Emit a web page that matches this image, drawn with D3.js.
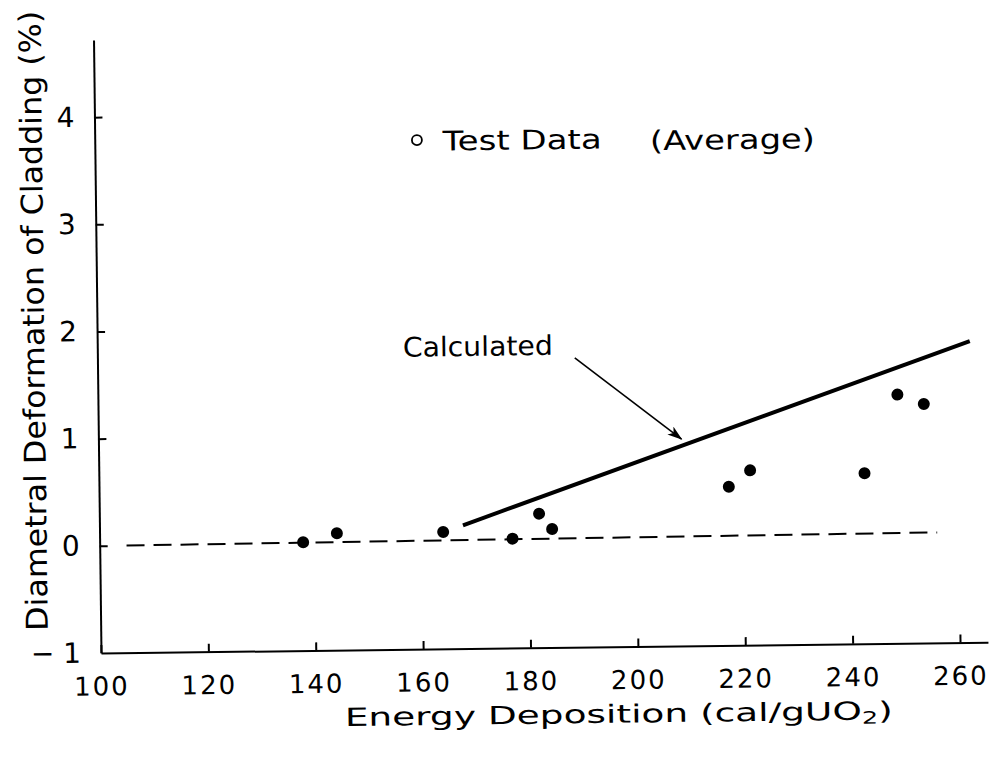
<!DOCTYPE html>
<html>
<head>
<meta charset="utf-8">
<script src="https://cdn.jsdelivr.net/npm/d3@7"></script>
<style>
  body { margin: 0; background: #fff; }
  svg { display: block; }
  text { font-family: "DejaVu Sans", sans-serif; fill: #000; }
  .axis path, .axis line { stroke: #000; stroke-width: 2; }
</style>
</head>
<body>
<svg id="svg"></svg>
<script>
// data
let energy = [137.9, 144.2, 164.0, 176.9, 181.9, 184.3, 217.3, 221.3, 242.6, 248.9, 253.8];
let deformation = [0.01, 0.09, 0.09, 0.02, 0.25, 0.105, 0.48, 0.63, 0.59, 1.32, 1.23];

// calculated curve and zero baseline (end points)
let calcX = [167.7, 262.5];
let calcY = [0.15, 1.81];
let baseX = [105, 256];
let baseY = [0, 0.03];

// tick labels
let xTicks = [100, 120, 140, 160, 180, 200, 220, 240, 260];
let xTickLabels = ["100", "120", "140", "160", "180", "200", "220", "240", "260"];
let yTicks = [-1, 0, 1, 2, 3, 4];
let yTickLabels = ["\u2212 1", "0", "1", "2", "3", "4"];

// annotation anchors (data units)
let arrowFrom = [188.9, 1.70];
let arrowTo = [208.6, 0.93];
let calcLabel = [156.9, 1.73];
let legendDot = [160.0, 3.75];
let legendText = [164.8, 3.65];
let legendNote = [203.4, 3.63];

let width = 999,
    height = 762;

let svg = d3.select("#svg")
    .attr("width", width)
    .attr("height", height);

svg.append("rect").attr("width", width).attr("height", height).attr("fill", "#fff");

svg.append("defs").append("marker")
    .attr("id", "arrow")
    .attr("markerUnits", "userSpaceOnUse")
    .attr("markerWidth", 16)
    .attr("markerHeight", 10)
    .attr("refX", 14)
    .attr("refY", 5)
    .attr("orient", "auto")
  .append("path")
    .attr("d", "M0,0 L15,5 L0,10 L4,5 Z")
    .attr("fill", "#000");

// the scanned figure sits slightly tilted
let g = svg.append("g")
    .attr("transform", "translate(101,653) rotate(-0.7)");

let xScale = d3.scaleLinear().domain([100, 265.2]).range([0, 887]);
let yScale = d3.scaleLinear().domain([-1, 4.72]).range([0, -613]);

let xAxis = d3.axisBottom(xScale)
    .tickValues(xTicks)
    .tickFormat((d, i) => xTickLabels[i])
    .tickSizeInner(-8)
    .tickSizeOuter(0)
    .tickPadding(24);

let yAxis = d3.axisLeft(yScale)
    .tickValues(yTicks)
    .tickFormat((d, i) => yTickLabels[i])
    .tickSizeInner(-8)
    .tickSizeOuter(0)
    .tickPadding(20);

let gx = g.append("g").attr("class", "axis").call(xAxis);
gx.selectAll("text")
    .attr("font-size", 26)
    .attr("letter-spacing", 2)
    .attr("font-family", "DejaVu Sans");

let gy = g.append("g").attr("class", "axis").call(yAxis);
gy.selectAll("text")
    .attr("font-size", 28)
    .attr("font-family", "DejaVu Sans");
gy.selectAll(".tick").filter(d => d === -1).select("line").remove();

// zero baseline (dashed)
let line = d3.line()
    .x(d => xScale(d[0]))
    .y(d => yScale(d[1]));

g.append("path")
    .datum(d3.zip(baseX, baseY))
    .attr("d", line)
    .attr("fill", "none")
    .attr("stroke", "#000")
    .attr("stroke-width", 2)
    .attr("stroke-dasharray", "18,9");

// calculated line
g.append("path")
    .datum(d3.zip(calcX, calcY))
    .attr("d", line)
    .attr("fill", "none")
    .attr("stroke", "#000")
    .attr("stroke-width", 4);

// test data
g.selectAll(".dot")
    .data(d3.zip(energy, deformation))
    .enter().append("circle")
    .attr("class", "dot")
    .attr("cx", d => xScale(d[0]))
    .attr("cy", d => yScale(d[1]))
    .attr("r", 6)
    .attr("fill", "#000");

// annotation arrow
g.append("line")
    .attr("x1", xScale(arrowFrom[0]))
    .attr("y1", yScale(arrowFrom[1]))
    .attr("x2", xScale(arrowTo[0]))
    .attr("y2", yScale(arrowTo[1]))
    .attr("stroke", "#000")
    .attr("stroke-width", 1.6)
    .attr("marker-end", "url(#arrow)");

g.append("text")
    .attr("x", xScale(calcLabel[0]))
    .attr("y", yScale(calcLabel[1]))
    .attr("font-size", 27)
    .attr("textLength", 150)
    .attr("lengthAdjust", "spacingAndGlyphs")
    .text("Calculated");

// legend
g.append("circle")
    .attr("cx", xScale(legendDot[0]))
    .attr("cy", yScale(legendDot[1]))
    .attr("r", 5)
    .attr("fill", "none")
    .attr("stroke", "#000")
    .attr("stroke-width", 1.8);

g.append("text")
    .attr("x", xScale(legendText[0]))
    .attr("y", yScale(legendText[1]))
    .attr("font-size", 27)
    .attr("textLength", 159)
    .attr("lengthAdjust", "spacingAndGlyphs")
    .text("Test Data");

g.append("text")
    .attr("x", xScale(legendNote[0]))
    .attr("y", yScale(legendNote[1]))
    .attr("font-size", 27)
    .attr("textLength", 165)
    .attr("lengthAdjust", "spacingAndGlyphs")
    .text("(Average)");

// axis titles
g.append("text")
    .attr("x", 517)
    .attr("y", 76)
    .attr("text-anchor", "middle")
    .attr("font-size", 25)
    .attr("textLength", 548)
    .attr("lengthAdjust", "spacingAndGlyphs")
    .html("Energy Deposition (cal/gUO<tspan font-size='17' dy='4'>2</tspan><tspan dy='-4'>)</tspan>");

g.append("text")
    .attr("transform", "translate(-53,-333) rotate(-90)")
    .attr("text-anchor", "middle")
    .attr("font-size", 30)
    .attr("textLength", 620)
    .attr("lengthAdjust", "spacingAndGlyphs")
    .text("Diametral Deformation of Cladding (%)");
</script>
</body>
</html>
